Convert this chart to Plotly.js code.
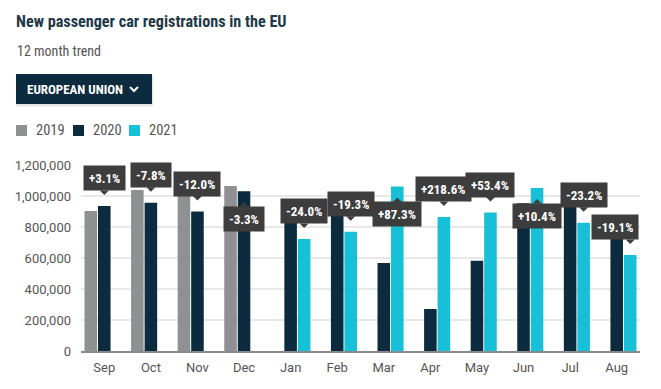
<!DOCTYPE html>
<html>
<head>
<meta charset="utf-8">
<script src="https://cdn.plot.ly/plotly-3.0.1.min.js"></script>
<style>
  html, body { margin: 0; padding: 0; background: #ffffff; }
  #chart { width: 661px; height: 389px; }
</style>
</head>
<body>
<div id="chart"></div>
<script>
// ---- data ----
const months = ['Sep', 'Oct', 'Nov', 'Dec', 'Jan', 'Feb', 'Mar', 'Apr', 'May', 'Jun', 'Jul', 'Aug'];
const seriesNames = ['2019', '2020', '2021'];
const values2019 = [904000, 1039000, 1022000, 1065000, null, null, null, null, null, null, null, null];
const values2020 = [936000, 957000, 900000, 1030000, 952000, 953000, 567000, 271000, 582000, 953000, 1077000, 767000];
const values2021 = [null, null, null, null, 723000, 769000, 1062000, 864000, 893000, 1052000, 827000, 620000];
const changeLabels = ['+3.1%', '-7.8%', '-12.0%', '-3.3%', '-24.0%', '-19.3%', '+87.3%', '+218.6%', '+53.4%', '+10.4%', '-23.2%', '-19.1%'];
const yTickValues = [0, 200000, 400000, 600000, 800000, 1000000, 1200000];

// ---- style ----
const colors = ['#8e9092', '#0d2b3f', '#17bfd7'];
const labelBg = '#3d3d3d';
const condensed = '"Liberation Sans Narrow", "Roboto Condensed", "DejaVu Sans Condensed", Roboto, sans-serif';
const W = 661, H = 389;
const M = { l: 81, r: 21, t: 165, b: 38 };
const plotW = W - M.l - M.r, plotH = H - M.t - M.b;
const px = x => (x - M.l) / plotW;       // pixel -> paper x
const py = y => (H - M.b - y) / plotH;   // pixel -> paper y
const BARGAP = 0.13, GROUPGAP = 0.07;
const slot = (1 - BARGAP) / 3;

const traces = [values2019, values2020, values2021].map((vals, i) => ({
  type: 'bar',
  name: seriesNames[i],
  x: months,
  y: vals,
  marker: { color: colors[i], line: { width: 0 } },
  hoverinfo: 'skip',
  showlegend: false
}));

const annotations = [];
const shapes = [];

// change callouts, anchored on the latest available bar of each month
months.forEach((m, i) => {
  const has2021 = values2021[i] !== null;
  const v = has2021 ? values2021[i] : values2020[i];
  const xi = i + (has2021 ? slot : 0);
  const below = v > 1000000;
  const last = i === months.length - 1;
  annotations.push({
    xref: 'x', yref: 'y', x: xi, y: v,
    text: '<b>' + changeLabels[i] + '</b>',
    showarrow: false,
    xanchor: last ? 'right' : 'center',
    xshift: last ? 9 : 0,
    yanchor: below ? 'top' : 'bottom',
    yshift: below ? -15 : 15,
    bgcolor: labelBg,
    borderpad: 5,
    height: 14,
    valign: 'middle',
    font: { family: condensed, size: 13, color: '#ffffff' }
  });
  shapes.push({
    type: 'path', layer: 'above',
    xref: 'x', yref: 'y',
    xsizemode: 'pixel', ysizemode: 'pixel',
    xanchor: xi, yanchor: v,
    path: below ? 'M-4.5,-15.5 L4.5,-15.5 L0,-11 Z' : 'M-4.5,15.5 L4.5,15.5 L0,11 Z',
    fillcolor: labelBg, line: { width: 0 }
  });
});

// legend (drawn as swatches + labels)
const legendSwatchX = [16, 73, 129];
seriesNames.forEach((name, i) => {
  const x0 = legendSwatchX[i];
  shapes.push({
    type: 'rect', xref: 'paper', yref: 'paper', layer: 'above',
    x0: px(x0), x1: px(x0 + 11), y0: py(125), y1: py(136),
    fillcolor: colors[i], line: { width: 0 }
  });
  annotations.push({
    xref: 'paper', yref: 'paper', x: px(x0 + 18), y: py(130.5),
    xanchor: 'left', yanchor: 'middle', showarrow: false,
    text: name,
    font: { family: condensed, size: 14.5, color: '#555555' }
  });
});

// dropdown-like button
shapes.push({
  type: 'rect', xref: 'paper', yref: 'paper', layer: 'above',
  x0: px(16), x1: px(153), y0: py(75), y1: py(106.5),
  fillcolor: 'rgba(0,0,0,0.10)', line: { width: 0 }
});
shapes.push({
  type: 'rect', xref: 'paper', yref: 'paper', layer: 'above',
  x0: px(16), x1: px(152), y0: py(74), y1: py(104),
  fillcolor: '#0d2b3f', line: { width: 0 }
});
shapes.push({
  type: 'path', xref: 'paper', yref: 'paper', layer: 'above',
  path: 'M' + px(130) + ',' + py(87) + ' L' + px(134) + ',' + py(91) + ' L' + px(138) + ',' + py(87),
  line: { color: '#ffffff', width: 2 }
});
annotations.push({
  xref: 'paper', yref: 'paper', x: px(25), y: py(89.5),
  xanchor: 'left', yanchor: 'middle', showarrow: false,
  text: '<b>EUROPEAN UNION</b>',
  font: { family: condensed, size: 13, color: '#ffffff' }
});

// subtitle
annotations.push({
  xref: 'paper', yref: 'paper', x: px(15), y: py(51),
  xanchor: 'left', yanchor: 'middle', showarrow: false,
  text: '12 month trend',
  font: { family: condensed, size: 14, color: '#555555' }
});

const layout = {
  width: W, height: H,
  margin: M,
  paper_bgcolor: '#ffffff', plot_bgcolor: '#ffffff',
  title: {
    text: '<b>New passenger car registrations in the EU</b>',
    xref: 'container', yref: 'container',
    x: 16 / W, xanchor: 'left', y: 1 - 21 / H, yanchor: 'middle',
    font: { family: condensed, size: 16.2, color: '#233847' }
  },
  barmode: 'group', bargap: BARGAP, bargroupgap: GROUPGAP,
  showlegend: false,
  xaxis: {
    type: 'category', showgrid: false, showline: true, linecolor: '#8a8a8a', linewidth: 2,
    ticks: '', ticklabelstandoff: 3,
    tickfont: { family: 'Roboto, sans-serif', size: 13, color: '#555555' },
    fixedrange: true
  },
  yaxis: {
    range: [0, 1200000], tickvals: yTickValues, tickformat: ',d',
    showgrid: true, gridcolor: '#e8e8e8', gridwidth: 1.5, zeroline: false, showline: false,
    ticks: '', ticklabelstandoff: 9,
    tickfont: { family: 'Roboto, sans-serif', size: 13, color: '#555555' },
    fixedrange: true
  },
  shapes: shapes,
  annotations: annotations,
  hovermode: false
};

Plotly.newPlot('chart', traces, layout, { displayModeBar: false, staticPlot: true });
</script>
</body>
</html>
